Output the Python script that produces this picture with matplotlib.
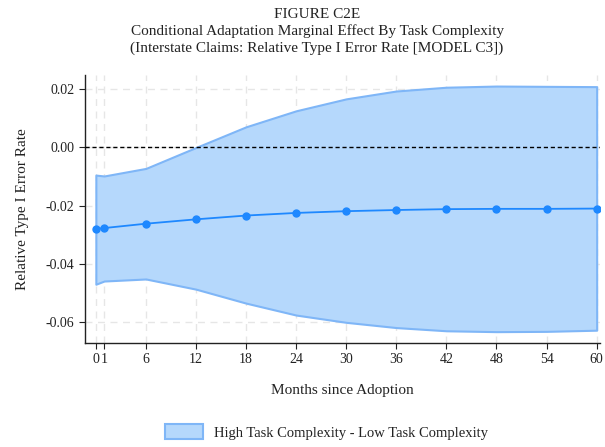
import matplotlib
matplotlib.use("Agg")
import matplotlib.pyplot as plt
from matplotlib.patches import Patch

plt.rcParams['font.family'] = ['Liberation Serif', 'DejaVu Serif']

months = [0, 1, 6, 12, 18, 24, 30, 36, 42, 48, 54, 60]
effect = [-0.0280, -0.0277, -0.0262, -0.0247, -0.0234, -0.0225, -0.0219,
          -0.0215, -0.0212, -0.0211, -0.0211, -0.0210]
ci_upper = [-0.0095, -0.0098, -0.0072, 0.0000, 0.0071, 0.0126, 0.0167,
            0.0194, 0.0207, 0.0211, 0.0210, 0.0209]
ci_lower = [-0.0470, -0.0459, -0.0452, -0.0487, -0.0535, -0.0576, -0.0601,
            -0.0619, -0.0630, -0.0633, -0.0632, -0.0628]
yticks = [0.02, 0.00, -0.02, -0.04, -0.06]
legend_label = "High Task Complexity - Low Task Complexity"

fill_color = "#b5d8fc"
edge_color = "#7fb6f7"
line_color = "#1e88ff"
text_color = "#222222"

fig = plt.figure(figsize=(6.05, 4.47), dpi=100)
ax = fig.add_axes([85/605, 1-343/447, (600-85)/605, (343-75)/447])

ax.fill_between(months, ci_lower, ci_upper, facecolor=fill_color,
                edgecolor=edge_color, linewidth=1.5, zorder=2)
ax.plot(months, effect, color=line_color, lw=1.3, marker='o', ms=5, zorder=4)
ax.axhline(0, color='black', lw=1, ls=(0, (3, 2)), zorder=3)

ax.set_xlim(-1.3, 60.4)
ax.set_ylim(-0.0672, 0.0249)
ax.set_xticks(months)
ax.set_xticklabels([str(m) for m in months])
ax.set_yticks(yticks)
ax.set_yticklabels([f"{v:.2f}" for v in yticks])
ax.tick_params(labelsize=10, length=4, width=0.8, colors=text_color)
ax.grid(True, color='#e6e6e6', lw=1, ls=(0, (5, 4)), zorder=1)
ax.set_axisbelow(True)
for s in ['top', 'right']:
    ax.spines[s].set_visible(False)
for s in ['left', 'bottom']:
    ax.spines[s].set_linewidth(1)
    ax.spines[s].set_color(text_color)

ax.set_xlabel("Months since Adoption", fontsize=11, labelpad=13, color=text_color)
ax.set_ylabel("Relative Type I Error Rate", fontsize=11, labelpad=12, color=text_color)

fig.text(0.524, 1-8/447, "FIGURE C2E\nConditional Adaptation Marginal Effect By Task Complexity\n"
         "(Interstate Claims: Relative Type I Error Rate [MODEL C3])",
         ha='center', va='top', fontsize=11, linespacing=1.3, color=text_color)

handle = Patch(facecolor=fill_color, edgecolor=edge_color, linewidth=1.5)
fig.legend([handle], [legend_label], loc='center', bbox_to_anchor=(0.54, 1-432/447),
           frameon=False, fontsize=10.5, handlelength=2.6, handleheight=1.2,
           labelcolor=text_color)

fig.savefig("out.png", dpi=100)
